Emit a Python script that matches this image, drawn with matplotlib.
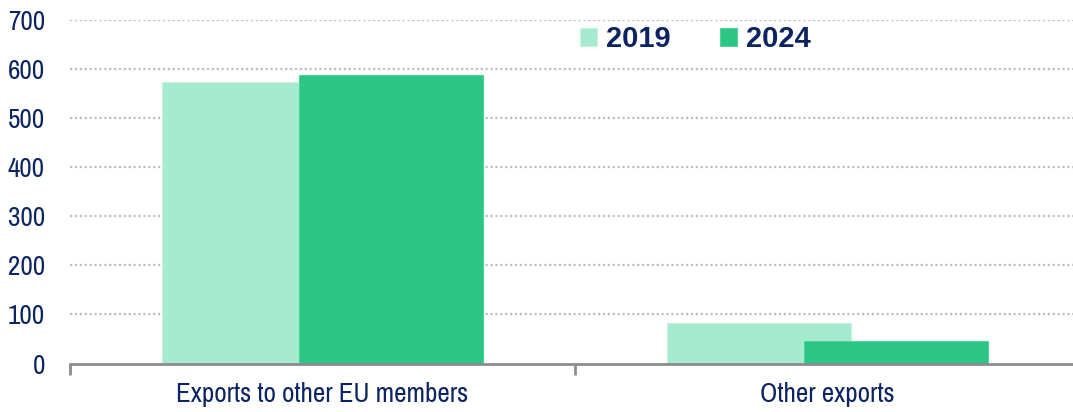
import matplotlib.pyplot as plt
import numpy as np
from matplotlib import font_manager

categories = ['Exports to other EU members', 'Other exports']
years = ['2019', '2024']
values_2019 = [573, 83]
values_2024 = [588, 46]
yticks = [0, 100, 200, 300, 400, 500, 600, 700]

C2019 = '#A6EBCF'
C2024 = '#2BC584'
NAVY = '#0C2461'

names = {f.name for f in font_manager.fontManager.ttflist}
narrow = 'Liberation Sans'
for cand in ['Liberation Sans Narrow', 'Archivo Narrow', 'Roboto Condensed',
             'PT Sans Narrow', 'Asap Condensed']:
    if cand in names:
        narrow = cand
        break

fig = plt.figure(figsize=(10.73, 4.12), dpi=100)
ax = fig.add_axes([0.0652, 0.1177, 0.9413, 0.8338])

x = np.arange(len(categories))
w = 0.364
off = 0.136
ax.bar(x - off, values_2019, w, color=C2019, edgecolor='#C8F3E1', linewidth=0.8,
       label=years[0], zorder=2)
ax.bar(x + off, values_2024, w, color=C2024, edgecolor='#4FD49C', linewidth=0.8,
       label=years[1], zorder=3)

ax.set_xlim(-0.5, 1.5)
ax.set_ylim(0, 700)
ax.set_yticks(yticks)
for t in yticks[1:]:
    ax.axhline(t, color='#BFBFBF', lw=1.6, ls=(0, (1, 1.2)), zorder=1)

# boundaries get the tick marks, categories get the labels
ax.set_xticks([-0.5, 0.5, 1.5])
ax.set_xticklabels([])
ax.set_xticks(x, minor=True)
ax.set_xticklabels(categories, minor=True, fontsize=19.5, color=NAVY, family=narrow)
ax.tick_params(axis='x', which='major', length=8, width=2, color='#8C8C8C', direction='out')
ax.tick_params(axis='x', which='minor', length=0, pad=13)
ax.tick_params(axis='y', length=0, pad=18, labelsize=19.5, labelcolor=NAVY)
for lab in ax.get_yticklabels():
    lab.set_family(narrow)

for s in ['top', 'right', 'left']:
    ax.spines[s].set_visible(False)
ax.spines['bottom'].set_color('#8C8C8C')
ax.spines['bottom'].set_linewidth(2)
ax.spines['bottom'].set_zorder(4)

leg = ax.legend(loc='center', bbox_to_anchor=(0.648, 0.905), bbox_transform=fig.transFigure,
                ncol=2, frameon=False, handlelength=0.58, handleheight=0.58,
                handletextpad=0.3, columnspacing=1.7,
                prop={'family': 'Liberation Sans', 'weight': 'bold', 'size': 21})
for t in leg.get_texts():
    t.set_color(NAVY)

fig.savefig('out.png', dpi=100)
